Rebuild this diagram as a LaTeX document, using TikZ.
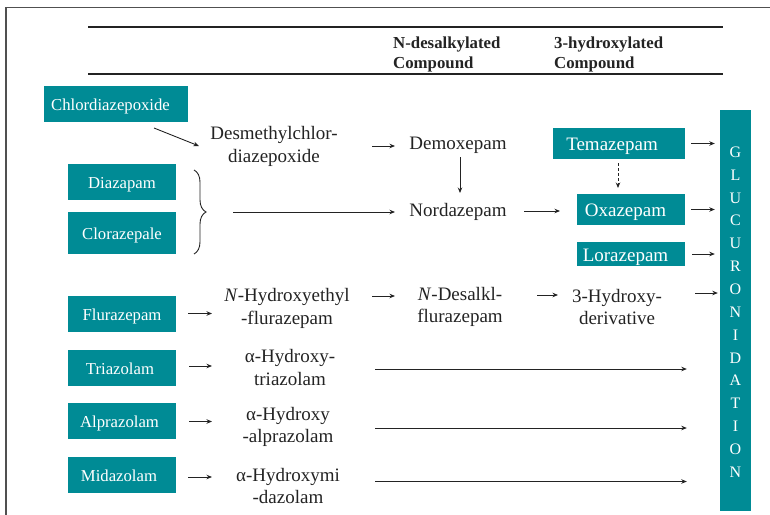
\documentclass[tikz,border=0pt]{standalone}
\usepackage{fontspec}
\setmainfont{Liberation Serif}
\usetikzlibrary{arrows.meta,decorations.pathreplacing}
\definecolor{tealbox}{RGB}{0,139,149}
\definecolor{ink}{RGB}{35,35,35}
\definecolor{framec}{RGB}{80,80,80}
\begin{document}
\begin{tikzpicture}[x=1pt,y=-1pt,
  lbox/.style={fill=tealbox,text=white,inner sep=0pt,minimum width=108pt,minimum height=36pt,text height=13.5pt,text depth=0pt,font=\fontsize{16.7}{20}\selectfont},
  rbox/.style={fill=tealbox,text=white,inner sep=0pt,minimum width=108pt,text height=14.4pt,text depth=0pt,font=\fontsize{19}{23}\selectfont},
  lbl/.style={inner sep=0pt,align=center,text=ink,font=\fontsize{19}{22.5}\selectfont},
  hdr/.style={inner sep=0pt,align=left,anchor=west,text=ink,font=\bfseries\fontsize{16.8}{20}\selectfont},
  arr/.style={draw=ink,line width=0.9pt,-{Stealth[length=5.5pt,width=4.5pt]}},
  rulel/.style={draw=ink,line width=1.8pt},
]
\useasboundingbox (0,0) rectangle (770,514);
% frame
\draw[framec,line width=1.6pt] (6,530) -- (6,7.5) -- (790,7.5);
% header rules
\draw[rulel] (88,27) -- (723,27);
\draw[rulel] (88,74) -- (723,74);
\node[hdr] (h1) at (393,54) {N-desalkylated\\Compound};
\node[hdr] (h2) at (554,54) {3-hydroxylated\\Compound};

% teal boxes
\node[lbox,minimum width=144pt] (chl) at (116,104) {\hspace*{-11pt}Chlordiazepoxide};
\node[lbox] (dia) at (122,182) {Diazapam};
\node[lbox,minimum height=42pt] (clo) at (122,233) {Clorazepale};
\node[lbox] (flu) at (122,314) {Flurazepam};
\node[lbox] (tri) at (122,368) {\hspace*{-4pt}Triazolam};
\node[lbox] (alp) at (122,421) {\hspace*{-5pt}Alprazolam};
\node[lbox] (mid) at (122,475) {\hspace*{-6pt}Midazolam};
\node[rbox,minimum width=132pt,minimum height=31pt] (tema) at (619,143.5) {\hspace*{-14pt}Temazepam};
\node[rbox,minimum height=31pt] (oxa) at (631,209.5) {\hspace*{-11pt}Oxazepam};
\node[rbox,minimum height=24pt] (lora) at (631,254) {\hspace*{-11pt}Lorazepam};
\node[fill=tealbox,inner sep=0pt,minimum width=31pt,minimum height=401pt] (glu) at (735.5,310.5) {};
\node[inner sep=0pt,align=center,text=white,font=\fontsize{16}{22.86}\selectfont] (glut) at (735.5,312)
  {G\\L\\U\\C\\U\\R\\O\\N\\I\\D\\A\\T\\I\\O\\N};

% black labels
\node[lbl] (desm) at (274,146.5) {Desmethylchlor-\\diazepoxide};
\node[lbl] (demox) at (458,145.5) {Demoxepam};
\node[lbl] (nord) at (458,212) {Nordazepam};
\node[lbl] (nhe) at (287,308.5) {\textit{N}-Hydroxyethyl\\-flurazepam};
\node[lbl] (ndes) at (460,307) {\textit{N}-Desalkl-\\flurazepam};
\node[lbl] (hyd3) at (617,307) {3-Hydroxy-\\derivative};
\node[lbl] (ahtri) at (290,367.5) {α-Hydroxy-\\triazolam};
\node[lbl] (ahalp) at (288,427) {α-Hydroxy\\-alprazolam};
\node[lbl] (ahmid) at (288,486) {α-Hydroxymi\\-dazolam};

% brace
\draw[ink,line width=0.9pt,decorate,decoration={brace,amplitude=12pt}] (194,170) -- (194,254);
\coordinate (btip) at (206,212);

% arrows upper block
\draw[arr] ([shift={(38,24)}]chl.center) -- ([shift={(-75,-0.5)}]desm.center);
\draw[arr] ([shift={(98,-0.5)}]desm.center) -- ([shift={(-63,0.5)}]demox.center);
\draw[arr] ([shift={(2,11.5)}]demox.center) -- ([shift={(2,-19)}]nord.center);
\draw[arr] ([shift={(27,0)}]btip) -- ([shift={(-63,0)}]nord.center);
\draw[arr] ([shift={(66,-1)}]nord.center) -- ([shift={(-71,1.5)}]oxa.center);
\draw[arr,dashed,dash pattern=on 3pt off 2pt] ([shift={(-1,19.5)}]tema.center) -- ([shift={(-13,-21.5)}]oxa.center);
\draw[arr] ([xshift=6pt]tema.east) -- ([xshift=-5pt]glu.west |- tema.east);
\draw[arr] ([xshift=6pt]oxa.east) -- ([xshift=-5pt]glu.west |- oxa.east);
\draw[arr] ([xshift=7pt]lora.east) -- ([xshift=-5pt]glu.west |- lora.east);

% flurazepam row
\draw[arr] ([shift={(12,-0.5)}]flu.east) -- ([shift={(-75,5)}]nhe.center);
\draw[arr] ([shift={(85,-12.5)}]nhe.center) -- ([shift={(-65,-11)}]ndes.center);
\draw[arr] ([shift={(77,-12)}]ndes.center) -- ([shift={(-59,-12)}]hyd3.center);
\coordinate (h3o) at ([shift={(78,-14)}]hyd3.center);
\draw[arr,shorten >=2pt] (h3o) -- (h3o -| glu.west);

% lower rows
\draw[arr] ([shift={(13,-2)}]tri.east) -- ([shift={(-78,-1.5)}]ahtri.center);
\draw[arr] ([shift={(13,0.5)}]alp.east) -- ([shift={(-76,-5.5)}]ahalp.center);
\draw[arr] ([shift={(12,2)}]mid.east) -- ([shift={(-76,-9)}]ahmid.center);
\coordinate (s1) at ([shift={(85,1.5)}]ahtri.center);
\coordinate (s2) at ([shift={(87,1)}]ahalp.center);
\coordinate (s3) at ([shift={(87,-4.5)}]ahmid.center);
\draw[arr,shorten >=33pt] (s1) -- (s1 -| glu.west);
\draw[arr,shorten >=33pt] (s2) -- (s2 -| glu.west);
\draw[arr,shorten >=33pt] (s3) -- (s3 -| glu.west);
\end{tikzpicture}
\end{document}
